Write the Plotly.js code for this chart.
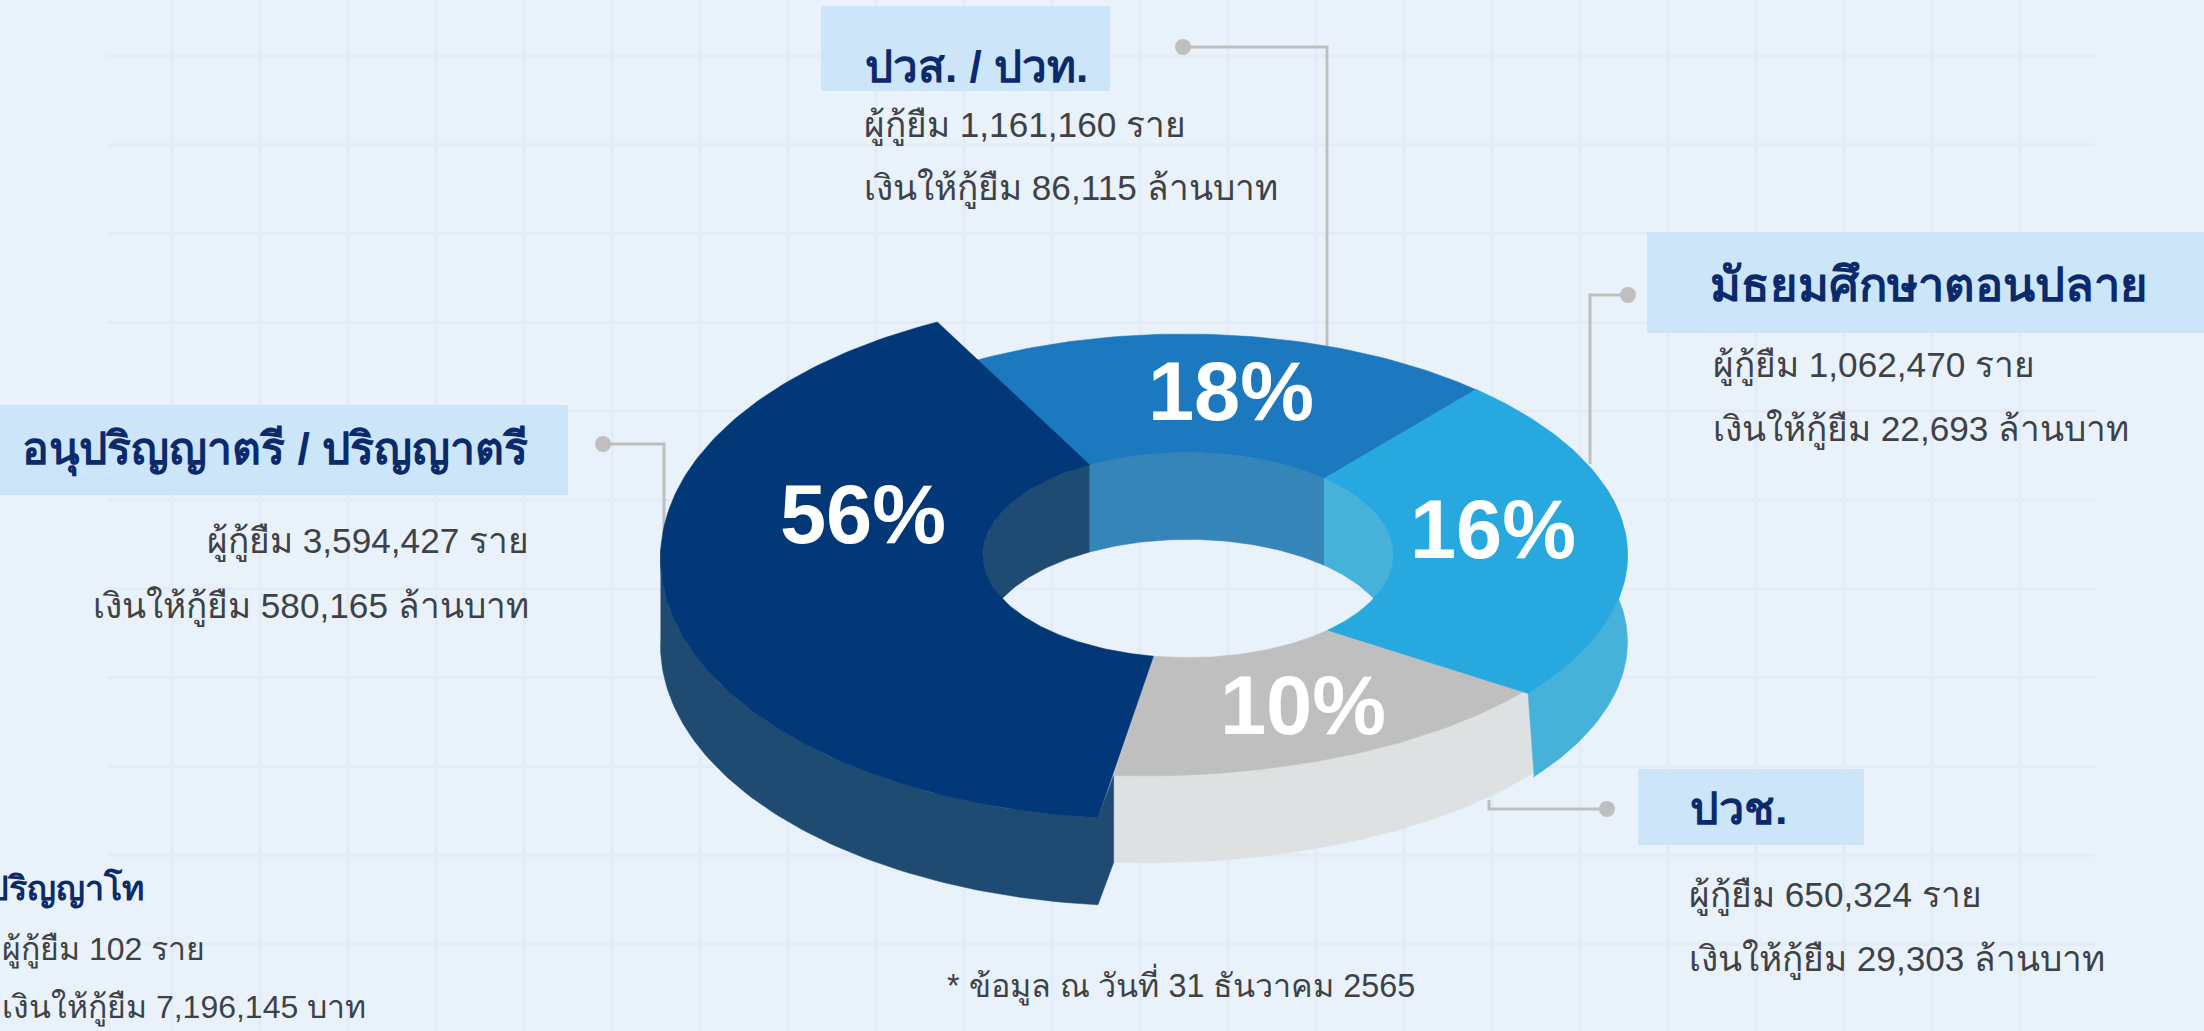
<!DOCTYPE html>
<html>
<head>
<meta charset="utf-8">
<script src="https://cdn.plot.ly/plotly-3.0.1.min.js"></script>
<style>html,body{margin:0;padding:0;background:#e9f2fa;overflow:hidden}#chart{width:2204px;height:1031px}</style>
</head>
<body>
<div id="chart"></div>
<script>
// ---------- data ----------
const categories = ['อนุปริญญาตรี / ปริญญาตรี', 'ปวส. / ปวท.', 'มัธยมศึกษาตอนปลาย', 'ปวช.'];
const percentLabels = [56, 18, 16, 10];
const borrowers = ['3,594,427', '1,161,160', '1,062,470', '650,324'];
const loansMillionBaht = ['580,165', '86,115', '22,693', '29,303'];
// swept angle of each slice as actually drawn in the picture (degrees)
const drawnSweepDeg = [155.4, 64.4, 84, 56.2];
const masterLabel = 'ปริญญาโท';
const masterBorrowers = '102';
const masterLoansBaht = '7,196,145';
const footnote = '* ข้อมูล ณ วันที่ 31 ธันวาคม 2565';

// ---------- style ----------
const topColors  = ['#033878', '#1c79bf', '#27a8de', '#bfbfbf'];
const sideColors = ['#1f4b73', '#3585b8', '#46b2da', '#dde1e2'];
const FONT = '"Liberation Sans", Arial, "Noto Sans", sans-serif';
const BG = '#e9f2fa', BOX = '#cde5f9', HEAD = '#0a2a6b', BODY = '#3e4246', LEAD = '#bfbfbf', GRID = '#e3ecf6';

// ---------- ring geometry ----------
const O = {cx: 1144, cy: 555, rx: 483.5, ry: 221};       // outer rim
const T = {cx: 1184, cy: 555, rx: 440, ry: 221};         // far rim of the 18% slice
const C = {cx: 1144, cy: 555, rx: 483.5, ry: 228};       // cyan slice bulges slightly
const N = {cx: 1144, cy: 558, rx: 483.5, ry: 261};       // navy slice, pulled out
const I = {cx: 1188, cy: 555, rx: 205, ry: 102.6};       // hole
const DEPTH = 87;
const startDeg = 183.6;
const innerSkew = [6.1, -7.6, -1.7, 9.7];                // boundary skew on the hole rim
const navyOuterSkew = [1.86, -4.3];

const bounds = [startDeg];
drawnSweepDeg.forEach(s => bounds.push(bounds[bounds.length - 1] + s));

function pt(e, deg, dy) {
  const a = deg * Math.PI / 180;
  return [e.cx + e.rx * Math.sin(a), e.cy - e.ry * Math.cos(a) + (dy || 0)];
}
function arc(e, a0, a1, dy) {
  const n = Math.max(8, Math.ceil(Math.abs(a1 - a0)));
  const out = [];
  for (let i = 0; i <= n; i++) out.push(pt(e, a0 + (a1 - a0) * i / n, dy));
  return out;
}
function poly(points, color) {
  const p = points.concat([points[0]]);
  return {type: 'scatter', mode: 'lines', x: p.map(q => q[0]), y: p.map(q => q[1]),
    fill: 'toself', fillcolor: color, line: {width: 0.5, color: color}, hoverinfo: 'skip', showlegend: false};
}
function band(e, a0, a1) { // vertical wall under an arc
  return arc(e, a0, a1, 0).concat(arc(e, a1, a0, DEPTH));
}

const inner = i => bounds[i] + innerSkew[i % 4];
const traces = [];

// far wall seen through the hole
traces.push(poly(band(I, 250, inner(1)), sideColors[0]));
traces.push(poly(band(I, inner(1), inner(2)), sideColors[1]));
traces.push(poly(band(I, inner(2), inner(2) + 70), sideColors[2]));

// outer walls
traces.push(poly(band(O, bounds[3] - 8, bounds[4]), sideColors[3]));
const cyanSide = arc(C, bounds[2] + 30, bounds[3], 0)
  .concat([[pt(C, bounds[3], DEPTH)[0] + 6, pt(C, bounds[3], DEPTH)[1] - 4]])
  .concat(arc(C, bounds[3] - 1, bounds[2] + 30, DEPTH));
traces.push(poly(cyanSide, sideColors[2]));
const navyStart = bounds[0] + navyOuterSkew[0], navyEnd = bounds[1] + navyOuterSkew[1];
// navy wall and the cut face of the pulled-out slice, as one outline
traces.push(poly([pt(O, bounds[0])].concat(arc(N, navyStart, 272, 0), arc(N, 272, navyStart, DEPTH), [pt(O, bounds[0], DEPTH)]), sideColors[0]));

// top faces (navy last: it overlaps its neighbour)
traces.push(poly(arc(T, bounds[1] - 10, bounds[2] - 1.8).concat(arc(I, inner(2), inner(1))), topColors[1]));
traces.push(poly(arc(O, bounds[3], bounds[4]).concat(arc(I, inner(4), inner(3))), topColors[3]));
traces.push(poly(arc(C, bounds[2], bounds[3]).concat(arc(I, inner(3), inner(2))), topColors[2]));
traces.push(poly(arc(N, navyStart, navyEnd).concat(arc(I, inner(1), inner(0))), topColors[0]));

// percent labels
const labelX = [863, 1231, 1493, 1303], labelY = [522, 399, 537, 713];
traces.push({type: 'scatter', mode: 'text', x: labelX, y: labelY,
  text: percentLabels.map(v => v + '%'), textposition: 'middle center',
  textfont: {family: FONT, size: 83, color: '#ffffff', weight: 700}, hoverinfo: 'skip', showlegend: false});

// leader dots
traces.push({type: 'scatter', mode: 'markers', x: [603, 1183, 1628, 1607], y: [444, 47, 295, 809],
  marker: {size: 16, color: LEAD}, hoverinfo: 'skip', showlegend: false});

// ---------- layout furniture ----------
const shapes = [];
for (let x = 172; x < 2100; x += 88)
  shapes.push({type: 'line', layer: 'below', x0: x, x1: x, y0: 0, y1: 1031, line: {color: GRID, width: 3}});
for (let y = 56; y < 1031; y += 88.8)
  shapes.push({type: 'line', layer: 'below', x0: 108, x1: 2095, y0: y, y1: y, line: {color: GRID, width: 3}});
[[821, 6, 1110, 91], [1647, 232, 2204, 333], [0, 405, 568, 495], [1638, 769, 1864, 845]].forEach(b =>
  shapes.push({type: 'rect', layer: 'below', x0: b[0], y0: b[1], x1: b[2], y1: b[3], fillcolor: BOX, line: {width: 0}}));
[[603, 444, 664, 444, 664, 534], [1183, 47, 1327, 47, 1327, 346], [1628, 295, 1590, 295, 1590, 464], [1607, 809, 1489, 809, 1489, 800]].forEach(l => {
  shapes.push({type: 'path', layer: 'below', path: `M${l[0]},${l[1]} L${l[2]},${l[3]} L${l[4]},${l[5]}`, line: {color: LEAD, width: 3}});
});

function note(text, x, y, anchor, size, color, bold) {
  return {xref: 'x', yref: 'y', x: x, y: y, text: bold ? '<b>' + text + '</b>' : text, showarrow: false,
    xanchor: anchor, yanchor: 'middle', align: anchor, font: {family: FONT, size: size, color: color}};
}
const who = 'ผู้กู้ยืม ', lend = 'เงินให้กู้ยืม ', ppl = ' ราย', mb = ' ล้านบาท';
const anchors = [
  {a: 'right', hx: 530, hy: 450, x: 531, y1: 541, y2: 606, hs: 44.6},
  {a: 'left',  hx: 863, hy: 66,  x: 862, y1: 125, y2: 188, hs: 44},
  {a: 'left',  hx: 1708, hy: 284, x: 1711, y1: 365, y2: 429, hs: 47},
  {a: 'left',  hx: 1688, hy: 808, x: 1687, y1: 895, y2: 959, hs: 45}
];
const annotations = [];
categories.forEach((c, i) => {
  const p = anchors[i];
  annotations.push(note(c, p.hx, p.hy, p.a, p.hs, HEAD, true));
  annotations.push(note(who + borrowers[i] + ppl, p.x, p.y1, p.a, 35.2, BODY));
  annotations.push(note(lend + loansMillionBaht[i] + mb, p.x, p.y2, p.a, 35.2, BODY));
});
annotations.push(note(masterLabel, 146, 888, 'right', 34, HEAD, true));
annotations.push(note(who + masterBorrowers + ppl, 0, 950, 'left', 32, BODY));
annotations.push(note(lend + masterLoansBaht + ' บาท', 0, 1008, 'left', 32, BODY));
annotations.push(note(footnote, 945, 984, 'left', 32.3, BODY));

const axis = {visible: false, showgrid: false, zeroline: false, fixedrange: true};
Plotly.newPlot('chart', traces, {
  width: 2204, height: 1031, margin: {l: 0, r: 0, t: 0, b: 0},
  paper_bgcolor: BG, plot_bgcolor: BG, showlegend: false,
  xaxis: Object.assign({range: [0, 2204]}, axis),
  yaxis: Object.assign({range: [1031, 0]}, axis),
  shapes: shapes, annotations: annotations
}, {displayModeBar: false, staticPlot: true});
</script>
</body>
</html>
